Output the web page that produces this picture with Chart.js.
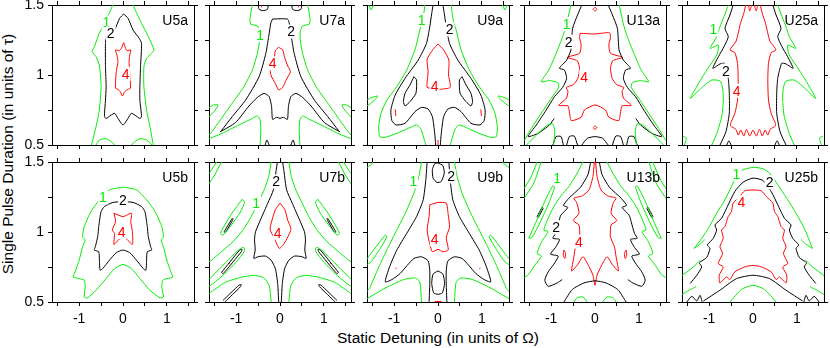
<!DOCTYPE html>
<html><head><meta charset="utf-8">
<script src="https://cdn.jsdelivr.net/npm/chart.js@4/dist/chart.umd.min.js"></script>
<style>
html,body{margin:0;padding:0;background:#fff;}
#wrap{position:relative;width:830px;height:348px;overflow:hidden;background:#fff;font-family:"Liberation Sans",Arial,sans-serif;}
.ttl{position:absolute;white-space:nowrap;color:#000;line-height:1;}
</style></head>
<body><div id="wrap">
<div class="ttl" id="xt" style="left:438px;top:330px;font-size:15.5px;transform:translateX(-50%);">Static Detuning (in units of Ω)</div>
<div class="ttl" id="yt" style="left:8px;top:154px;font-size:15.5px;transform:translate(-50%,-50%) rotate(-90deg);">Single Pulse Duration (in units of τ)</div>
</div>
<script>
// ---- axes ----
const xTicks = [-1.5, -1, -0.5, 0, 0.5, 1, 1.5];
const xTickLabels = [-1, 0, 1];
const yTicks = [0.5, 0.75, 1, 1.25, 1.5];
const yTickLabels = [0.5, 1, 1.5];
const panelNames = ['U5a','U7a','U9a','U13a','U25a','U5b','U7b','U9b','U13b','U25b'];
const levels = ['1','2','4'];

// ---- contour lines (detuning, duration) pairs ----
const U5a_1 = [
 [-0.23,1.5,-0.385,1.393,-0.54,1.298,-0.654,1.202,-0.708,1.167,-0.615,1.131,-0.54,1.071,-0.5,0.917,-0.54,0.75,-0.615,0.631,-0.69,0.536,-0.72,0.5],
 [0.23,1.5,0.385,1.393,0.577,1.274,0.708,1.179,0.654,1.155,0.538,1.119,0.477,1.06,0.477,0.917,0.538,0.75,0.615,0.631,0.692,0.5],
 [-0.615,0.5,-0.54,0.536,-0.385,0.545,-0.27,0.524,-0.19,0.5],
 [0.19,0.5,0.27,0.524,0.385,0.545,0.54,0.536,0.654,0.5]];
const U5a_2 = [
 [0.015,1.436,-0.077,1.405,-0.192,1.321,-0.308,1.274,-0.385,1.262,-0.4,1.226,-0.4,1.06,-0.385,0.917,-0.4,0.821,-0.423,0.702,-0.385,0.69,-0.27,0.714,-0.19,0.726,-0.115,0.69,0,0.643,0.115,0.69,0.19,0.726,0.27,0.714,0.385,0.69,0.423,0.702,0.385,0.821,0.385,0.917,0.4,1.06,0.423,1.226,0.37,1.262,0.23,1.321,0.115,1.405,0.015,1.436]];
const U5a_4 = [
 [0.015,1.231,-0.038,1.19,-0.077,1.174,-0.17,1.179,-0.138,1.143,-0.115,1.095,-0.154,1.024,-0.17,0.905,-0.115,0.898,-0.062,0.881,-0.015,0.85,0.038,0.881,0.115,0.898,0.17,0.905,0.154,1.024,0.138,1.095,0.154,1.143,0.177,1.179,0.092,1.174,0.062,1.19,0.015,1.231]];
const U5a_tags = [[-0.38,1.375,'1'],[-0.28,1.298,'2'],[0.06,1.007,'4']];

const U7a_1 = [
 [-0.631,1.5,-0.685,1.405,-0.669,1.364,-0.515,1.35,-0.462,1.31,-0.462,1.25,-0.515,1.155,-0.631,1.036,-0.823,0.917,-1.092,0.798,-1.362,0.679,-1.554,0.595,-1.654,0.56],
 [-1.654,0.54,-1.323,0.583,-0.938,0.643,-0.631,0.69,-0.515,0.707,-0.454,0.679,-0.438,0.607,-0.454,0.5],
 [-1.654,0.762,-1.515,0.786,-1.415,0.786,-1.477,0.75,-1.631,0.698,-1.654,0.69],
 [0.631,1.5,0.685,1.405,0.669,1.364,0.515,1.35,0.462,1.31,0.462,1.25,0.515,1.155,0.631,1.036,0.823,0.917,1.092,0.798,1.362,0.679,1.554,0.595,1.654,0.56],
 [1.654,0.54,1.323,0.583,0.938,0.643,0.631,0.69,0.515,0.707,0.454,0.679,0.438,0.607,0.454,0.5],
 [1.654,0.762,1.515,0.786,1.415,0.786,1.477,0.75,1.631,0.698,1.654,0.69]];
const U7a_2 = [
 [-0.169,1.4,-0.208,1.374,-0.246,1.298,-0.323,1.155,-0.477,0.988,-0.785,0.821,-1.092,0.702,-1.338,0.602,-1.362,0.595,-1.015,0.66,-0.708,0.779,-0.515,0.84,-0.362,0.869,-0.246,0.845,-0.192,0.774,-0.169,0.683,-0.077,0.698,0,0.69,0.077,0.698,0.169,0.683,0.192,0.774,0.246,0.845,0.362,0.869,0.515,0.84,0.708,0.779,1.015,0.66,1.362,0.595,1.338,0.602,1.092,0.702,0.785,0.821,0.477,0.988,0.323,1.155,0.246,1.298,0.208,1.374,0.169,1.4,-0.169,1.4],
 [-0.5,1.5,-0.477,1.469,-0.385,1.46,-0.285,1.469,-0.269,1.5],
 [0.269,1.5,0.285,1.469,0.385,1.46,0.477,1.469,0.5,1.5],
 [-0.338,0.5,-0.3,0.536,-0.246,0.5],
 [0.246,0.5,0.3,0.536,0.338,0.5]];
const U7a_4 = [
 [-0.031,1.198,-0.108,1.174,-0.131,1.112,-0.223,1.036,-0.2,0.993,-0.108,0.94,-0.031,0.893,0.062,0.912,0.138,0.964,0.238,1.024,0.177,1.064,0.1,1.131,0.062,1.179,-0.031,1.198],
 [-0.438,1.5,-0.415,1.483],[0.415,1.483,0.438,1.5]];
const U7a_tags = [[-0.454,1.286,'1'],[0.254,1.31,'2'],[-0.17,1.083,'4']];

const U9a_1 = [
 [-0.301,1.5,-0.323,1.44,-0.353,1.381,-0.414,1.321,-0.526,1.179,-0.714,1.036,-0.94,0.917,-1.165,0.821,-1.301,0.726,-1.353,0.631,-1.331,0.56,-1.203,0.555,-0.94,0.583,-0.677,0.619,-0.489,0.643,-0.398,0.619,-0.323,0.548,-0.278,0.5],
 [0.301,1.5,0.323,1.44,0.353,1.381,0.414,1.321,0.526,1.179,0.714,1.036,0.94,0.917,1.165,0.821,1.301,0.726,1.353,0.631,1.331,0.56,1.203,0.555,0.94,0.583,0.677,0.619,0.489,0.643,0.398,0.619,0.323,0.548,0.278,0.5],
 [-1.632,0.821,-1.504,0.84,-1.376,0.85,-1.429,0.826,-1.579,0.786,-1.632,0.779],
 [1.632,0.821,1.504,0.84,1.376,0.85,1.429,0.826,1.579,0.786,1.632,0.779],
 [-1.579,1.5,-1.526,1.464,-1.474,1.5],
 [1.474,1.5,1.526,1.464,1.579,1.5]];
const U9a_2 = [
 [-0.113,1.5,-0.143,1.44,-0.188,1.345,-0.263,1.226,-0.451,1.107,-0.752,0.976,-0.977,0.857,-1.075,0.75,-1.053,0.674,-0.955,0.643,-0.752,0.655,-0.526,0.738,-0.376,0.769,-0.226,0.757,-0.128,0.702,-0.075,0.583,-0.053,0.5],
 [0.113,1.5,0.143,1.44,0.188,1.345,0.263,1.226,0.451,1.107,0.752,0.976,0.977,0.857,1.075,0.75,1.053,0.674,0.955,0.643,0.752,0.655,0.526,0.738,0.376,0.769,0.226,0.757,0.128,0.702,0.075,0.583,0.053,0.5],
 [-0.549,0.988,-0.489,0.964,-0.504,0.869,-0.639,0.81,-0.752,0.779,-0.789,0.81,-0.752,0.869,-0.639,0.929,-0.549,0.988],
 [0.549,0.988,0.489,0.964,0.504,0.869,0.639,0.81,0.752,0.779,0.789,0.81,0.752,0.869,0.639,0.929,0.549,0.988]];
const U9a_4 = [
 [0,1.221,-0.113,1.183,-0.248,1.112,-0.226,1.024,-0.248,0.912,-0.113,0.905,0.038,0.898,0.278,0.912,0.241,1.0,0.248,1.107,0.128,1.179,0,1.221],
 [-0.977,0.755,-0.962,0.707],[0.977,0.755,0.992,0.707],[0,0.536,0,0.5]];
const U9a_tags = [[-0.376,1.393,'1'],[0.263,1.326,'2'],[-0.075,0.921,'4']];

const U13a_1 = [
 [-0.549,1.5,-0.602,1.429,-0.647,1.364,-0.737,1.274,-0.887,1.155,-1.053,1.036,-1.226,0.952,-1.038,0.96,-0.85,0.945,-0.827,0.912,-1.0,0.833,-1.226,0.726,-1.451,0.619,-1.602,0.54,-1.65,0.52],
 [-1.564,0.5,-1.301,0.583,-1.075,0.645,-0.962,0.65,-0.917,0.595,-0.947,0.5],
 [0.549,1.5,0.602,1.429,0.647,1.364,0.737,1.274,0.887,1.155,1.053,1.036,1.226,0.952,1.038,0.96,0.85,0.945,0.827,0.912,1.0,0.833,1.226,0.726,1.451,0.619,1.602,0.54,1.65,0.52],
 [1.564,0.5,1.301,0.583,1.075,0.645,0.962,0.65,0.917,0.595,0.947,0.5]];
const U13a_2 = [
 [-0.301,1.5,-0.398,1.429,-0.511,1.333,-0.549,1.179,-0.647,1.107,-0.812,1.048,-0.699,1.036,-0.647,0.976,-0.737,0.912,-0.925,0.845,-1.113,0.75,-1.338,0.643,-1.526,0.56,-1.301,0.583,-1.038,0.643,-0.93,0.69],
 [0.301,1.5,0.398,1.429,0.511,1.333,0.549,1.179,0.647,1.107,0.812,1.048,0.699,1.036,0.647,0.976,0.737,0.912,0.925,0.845,1.113,0.75,1.338,0.643,1.526,0.56,1.301,0.583,1.038,0.643,0.93,0.69],
 [-0.962,0.5,-0.887,0.56,-0.774,0.56,-0.722,0.5],
 [-0.647,0.5,-0.586,0.56,-0.474,0.564,-0.398,0.5],
 [-0.301,0.5,-0.173,0.548,0,0.56,0.173,0.548,0.301,0.5],
 [0.398,0.5,0.474,0.564,0.586,0.56,0.647,0.5],
 [0.722,0.5,0.774,0.56,0.887,0.56,0.962,0.5]];
const U13a_4 = [
 [-0.338,1.298,0,1.293,0.331,1.302,0.353,1.269,0.316,1.214,0.353,1.155,0.632,1.126,0.406,1.102,0.353,1.048,0.391,0.976,0.504,0.929,0.654,0.912,0.617,0.881,0.654,0.833,0.827,0.783,0.617,0.779,0.579,0.726,0.541,0.674,0.316,0.698,0.241,0.75,0,0.786,-0.241,0.75,-0.316,0.698,-0.541,0.674,-0.579,0.726,-0.617,0.779,-0.827,0.783,-0.654,0.833,-0.617,0.881,-0.654,0.912,-0.504,0.929,-0.391,0.976,-0.353,1.048,-0.406,1.102,-0.632,1.126,-0.353,1.155,-0.316,1.214,-0.353,1.269,-0.338,1.298],
 [-0.045,1.469,0,1.483,0.045,1.469,0,1.457,-0.045,1.469],
 [-0.045,0.624,0,0.636,0.045,0.624,0,0.612,-0.045,0.624]];
const U13a_tags = [[-0.647,1.364,'1'],[-0.602,1.238,'2'],[-0.248,0.988,'4']];

const U25a_1 = [
 [-0.564,1.5,-0.662,1.417,-0.767,1.333,-0.827,1.274,-0.977,1.19,-0.789,1.214,-0.827,1.143,-1.053,1.036,-1.278,0.921,-1.429,0.833,-1.128,0.921,-0.94,0.964,-0.752,0.957,-0.692,0.905,-0.677,0.821,-0.714,0.702,-0.827,0.583,-0.94,0.5],
 [0.564,1.5,0.662,1.417,0.767,1.333,0.827,1.274,0.977,1.19,0.789,1.214,0.827,1.143,1.053,1.036,1.278,0.921,1.429,0.833,1.128,0.921,0.94,0.964,0.752,0.957,0.692,0.905,0.677,0.821,0.714,0.702,0.827,0.583,0.94,0.5],
 [-1.602,0.564,-1.519,0.548,-1.564,0.5],
 [1.602,0.564,1.519,0.548,1.564,0.5]];
const U25a_2 = [
 [-0.451,1.5,-0.526,1.429,-0.639,1.333,-0.564,1.274,-0.662,1.202,-0.789,1.131,-0.917,1.048,-0.752,1.079,-0.654,1.083,-0.564,0.976,-0.541,0.869,-0.541,0.726,-0.617,0.595,-0.752,0.5],
 [0.451,1.5,0.526,1.429,0.639,1.333,0.564,1.274,0.662,1.202,0.789,1.131,0.917,1.048,0.752,1.079,0.654,1.083,0.564,0.976,0.541,0.869,0.541,0.726,0.617,0.595,0.752,0.5],
 [-0.6,0.5,-0.55,0.53,-0.5,0.5],
 [0.5,0.5,0.55,0.53,0.6,0.5]];
const U25a_4 = [
 [-0.165,1.5,-0.211,1.44,-0.286,1.369,-0.338,1.298,-0.391,1.238,-0.526,1.179,-0.414,1.16,-0.353,1.083,-0.338,0.964,-0.353,0.821,-0.414,0.726,-0.511,0.655,-0.511,0.636,-0.391,0.612,-0.338,0.571,-0.278,0.607,-0.211,0.564,-0.15,0.612,-0.075,0.564,0,0.607,0.075,0.564,0.15,0.612,0.211,0.564,0.278,0.607,0.338,0.571,0.391,0.612,0.511,0.636,0.511,0.655,0.414,0.726,0.353,0.821,0.338,0.964,0.353,1.083,0.414,1.16,0.526,1.179,0.391,1.238,0.338,1.298,0.286,1.369,0.211,1.44,0.165,1.5],
 [-0.105,1.5,-0.075,1.457,-0.03,1.5],
 [0.03,1.5,0.075,1.457,0.105,1.5]];
const U25a_tags = [[-0.902,1.326,'1'],[-0.617,1.031,'2'],[-0.376,0.888,'4']];

const U5b_1 = [
 [0,1.321,-0.308,1.301,-0.538,1.23,-0.731,1.146,-0.885,1.038,-0.923,0.967,-0.862,0.943,-0.923,0.895,-1.0,0.799,-1.092,0.715,-1.138,0.679,-1.0,0.667,-0.885,0.656,-0.862,0.608,-0.885,0.536,-0.808,0.529,-0.615,0.584,-0.385,0.667,-0.192,0.739,0,0.768,0.192,0.739,0.385,0.667,0.615,0.584,0.846,0.529,0.923,0.536,0.885,0.608,0.908,0.656,1.0,0.667,1.138,0.679,1.092,0.715,1.0,0.799,0.923,0.895,0.869,0.943,0.923,0.967,0.885,1.038,0.731,1.146,0.538,1.23,0.308,1.301,0,1.321]];
const U5b_2 = [
 [0,1.218,-0.231,1.211,-0.423,1.182,-0.5,1.146,-0.554,1.038,-0.577,0.967,-0.631,0.895,-0.654,0.871,-0.554,0.859,-0.538,0.799,-0.523,0.727,-0.462,0.739,-0.308,0.799,-0.154,0.852,0,0.871,0.154,0.852,0.308,0.799,0.462,0.739,0.523,0.727,0.538,0.799,0.554,0.859,0.654,0.871,0.631,0.895,0.577,0.967,0.554,1.038,0.5,1.146,0.423,1.182,0.231,1.211,0,1.218]];
const U5b_4 = [
 [-0.208,1.134,0,1.11,0.192,1.134,0.177,1.074,0.215,1.002,0.215,0.911,0.092,0.947,0,0.967,-0.092,0.947,-0.208,0.911,-0.192,0.99,-0.246,1.014,-0.169,1.074,-0.208,1.134]];
const U5b_tags = [[-0.46,1.246,'1'],[0,1.225,'2'],[-0.03,1.0,'4']];

const U7b_1 = [
 [-1.623,1.344,-1.487,1.409,-1.336,1.5],
 [-1.449,1.5,-1.585,1.433,-1.623,1.416],
 [-0.86,1.234,-0.808,1.211,-0.921,1.134,-1.109,1.05,-1.298,0.978,-1.358,0.99,-1.26,1.05,-1.072,1.146,-0.86,1.234],
 [-0.204,1.5,-0.257,1.397,-0.377,1.289,-0.506,1.206,-0.657,1.11,-0.845,1.014,-1.072,0.931,-1.336,0.859,-1.562,0.799,-1.623,0.787],
 [-1.623,0.66,-1.374,0.739,-1.109,0.823,-0.921,0.878,-0.83,0.89,-0.808,0.866,-0.996,0.787,-1.26,0.703,-1.525,0.632,-1.623,0.612],
 [-1.623,0.56,-1.25,0.64,-0.9,0.675,-0.6,0.69,-0.38,0.675,-0.25,0.62,-0.2,0.5],
 [1.623,1.344,1.487,1.409,1.336,1.5],
 [1.449,1.5,1.585,1.433,1.623,1.416],
 [0.86,1.234,0.808,1.211,0.921,1.134,1.109,1.05,1.298,0.978,1.358,0.99,1.26,1.05,1.072,1.146,0.86,1.234],
 [0.204,1.5,0.257,1.397,0.377,1.289,0.506,1.206,0.657,1.11,0.845,1.014,1.072,0.931,1.336,0.859,1.562,0.799,1.623,0.787],
 [1.623,0.66,1.374,0.739,1.109,0.823,0.921,0.878,0.83,0.89,0.808,0.866,0.996,0.787,1.26,0.703,1.525,0.632,1.623,0.612],
 [1.623,0.56,1.25,0.64,0.9,0.675,0.6,0.69,0.38,0.675,0.25,0.62,0.2,0.5]];
const U7b_2 = [
 [-0.06,1.5,-0.091,1.433,-0.151,1.301,-0.279,1.206,-0.43,1.098,-0.558,1.002,-0.581,0.943,-0.566,0.871,-0.596,0.811,-0.506,0.823,-0.332,0.828,-0.204,0.799,-0.106,0.739,-0.053,0.632,-0.03,0.5],
 [0.06,1.5,0.091,1.433,0.151,1.301,0.279,1.206,0.43,1.098,0.558,1.002,0.581,0.943,0.566,0.871,0.596,0.811,0.506,0.823,0.332,0.828,0.204,0.799,0.106,0.739,0.053,0.632,0.03,0.5],
 [-1.275,1.002,-1.087,1.098,-1.072,1.091,-1.245,0.997,-1.275,1.002],
 [-1.336,0.711,-0.921,0.871,-0.868,0.876,-0.883,0.859,-1.298,0.703,-1.336,0.711],
 [-1.298,0.512,-0.936,0.62,-0.883,0.624,-0.906,0.608,-1.26,0.5],
 [1.275,1.002,1.087,1.098,1.072,1.091,1.245,0.997,1.275,1.002],
 [1.336,0.711,0.921,0.871,0.868,0.876,0.883,0.859,1.298,0.703,1.336,0.711],
 [1.298,0.512,0.936,0.62,0.883,0.624,0.906,0.608,1.26,0.5]];
const U7b_4 = [
 [0,1.206,-0.106,1.158,-0.181,1.086,-0.226,1.019,-0.128,0.955,-0.015,0.883,0.098,0.919,0.249,1.019,0.174,1.086,0.113,1.158,0,1.206],
 [-1.155,0.78,-1.14,0.77],[1.14,0.77,1.155,0.78]];
const U7b_tags = [[-0.543,1.206,'1'],[-0.09,1.361,'2'],[-0.053,0.995,'4']];

const U9b_1 = [
 [-0.376,1.5,-0.436,1.397,-0.549,1.278,-0.729,1.146,-0.94,1.014,-1.15,0.883,-1.331,0.763,-1.481,0.656,-1.564,0.596,-1.64,0.57],
 [-1.64,0.52,-1.2,0.6,-0.789,0.66,-0.526,0.672,-0.414,0.644,-0.376,0.5],
 [-1.64,0.799,-1.353,0.919,-1.203,0.978,-1.165,0.967,-1.316,0.883,-1.526,0.787,-1.64,0.763],
 [-1.64,1.457,-1.526,1.481,-1.481,1.5],
 [0.376,1.5,0.436,1.397,0.549,1.278,0.729,1.146,0.94,1.014,1.15,0.883,1.331,0.763,1.481,0.656,1.564,0.596,1.64,0.57],
 [1.64,0.52,1.2,0.6,0.789,0.66,0.526,0.672,0.414,0.644,0.376,0.5],
 [1.64,0.799,1.353,0.919,1.203,0.978,1.165,0.967,1.316,0.883,1.526,0.787,1.64,0.763],
 [1.64,1.457,1.526,1.481,1.481,1.5]];
const U9b_2 = [
 [0,1.493,0.113,1.474,0.143,1.421,0.075,1.361,-0.023,1.354,-0.113,1.385,-0.128,1.445,-0.075,1.488,0,1.493],
 [0,0.722,0.113,0.699,0.15,0.632,0.098,0.565,0,0.555,-0.098,0.565,-0.143,0.632,-0.113,0.699,0,0.722],
 [-0.248,1.5,-0.278,1.373,-0.338,1.23,-0.489,1.11,-0.714,0.99,-0.94,0.871,-1.105,0.751,-1.203,0.644,-1.053,0.66,-0.865,0.703,-0.699,0.763,-0.549,0.811,-0.376,0.823,-0.226,0.794,-0.188,0.727,-0.188,0.632,-0.203,0.5],
 [0.248,1.5,0.278,1.373,0.338,1.23,0.489,1.11,0.714,0.99,0.94,0.871,1.105,0.751,1.203,0.644,1.053,0.66,0.865,0.703,0.699,0.763,0.549,0.811,0.376,0.823,0.226,0.794,0.188,0.727,0.188,0.632,0.203,0.5]];
const U9b_4 = [
 [-0.188,1.194,0,1.211,0.188,1.206,0.233,1.122,0.263,1.034,0.188,0.962,0.233,0.871,0.113,0.859,0,0.876,-0.128,0.859,-0.188,0.914,-0.248,1.014,-0.203,1.11,-0.188,1.194],
 [-0.075,0.504,0.075,0.504],[-0.96,0.745,-0.95,0.735],[0.95,0.735,0.96,0.745]];
const U9b_tags = [[-0.564,1.361,'1'],[0.301,1.397,'2'],[-0.075,0.947,'4']];

const U13b_1 = [
 [-0.275,1.5,-0.405,1.421,-0.595,1.325,-0.786,1.254,-0.939,1.182,-1.069,1.098,-1.168,1.014,-1.069,1.002,-1.206,0.938,-1.321,0.847,-1.221,0.828,-1.374,0.763,-1.511,0.699,-1.64,0.667],
 [-1.64,1.23,-1.397,1.349,-1.229,1.5],
 [-1.321,1.5,-1.473,1.385,-1.64,1.301],
 [-1.511,0.955,-1.359,1.062,-1.13,1.23,-0.962,1.33,-0.924,1.321,-1.053,1.206,-1.244,1.074,-1.435,0.962,-1.511,0.955],
 [-0.481,0.5,-0.405,0.531,-0.275,0.536,-0.176,0.5],
 [0.275,1.5,0.405,1.421,0.595,1.325,0.786,1.254,0.939,1.182,1.069,1.098,1.168,1.014,1.069,1.002,1.206,0.938,1.321,0.847,1.221,0.828,1.374,0.763,1.511,0.699,1.64,0.667],
 [1.64,1.23,1.397,1.349,1.229,1.5],
 [1.321,1.5,1.473,1.385,1.64,1.301],
 [1.511,0.955,1.359,1.062,1.13,1.23,0.962,1.33,0.924,1.321,1.053,1.206,1.244,1.074,1.435,0.962,1.511,0.955],
 [0.481,0.5,0.405,0.531,0.275,0.536,0.176,0.5]];
const U13b_2 = [
 [-0.099,1.5,-0.16,1.41,-0.33,1.32,-0.6,1.24,-0.72,1.19,-0.62,1.175,-0.78,1.12,-0.824,1.074,-0.901,0.99,-0.962,0.955,-0.809,0.947,-0.901,0.89,-1.015,0.842,-0.84,0.828,-0.939,0.77,-1.069,0.715,-1.145,0.656,-1.069,0.612,-0.863,0.636,-0.75,0.66],
 [0.099,1.5,0.16,1.41,0.33,1.32,0.6,1.24,0.72,1.19,0.62,1.175,0.78,1.12,0.824,1.074,0.901,0.99,0.962,0.955,0.809,0.947,0.901,0.89,1.015,0.842,0.84,0.828,0.939,0.77,1.069,0.715,1.145,0.656,1.069,0.612,0.863,0.636,0.75,0.66],
 [-0.71,0.5,-0.519,0.589,-0.252,0.636,0,0.651,0.252,0.636,0.519,0.589,0.71,0.5],
 [-1.321,1.11,-1.206,1.177,-1.183,1.17,-1.298,1.103,-1.321,1.11],
 [1.321,1.11,1.206,1.177,1.183,1.17,1.298,1.103,1.321,1.11]];
const U13b_4 = [
 [-0.015,1.5,-0.046,1.397,-0.137,1.301,-0.29,1.258,-0.481,1.242,-0.42,1.211,-0.366,1.134,-0.496,1.081,-0.366,1.05,-0.351,0.967,-0.443,0.895,-0.481,0.823,-0.534,0.722,-0.405,0.763,-0.275,0.823,-0.153,0.763,-0.046,0.691,0,0.62,0.046,0.691,0.153,0.763,0.275,0.823,0.405,0.763,0.534,0.722,0.481,0.823,0.443,0.895,0.351,0.967,0.366,1.05,0.496,1.081,0.366,1.134,0.42,1.211,0.481,1.242,0.29,1.258,0.137,1.301,0.046,1.397,0.015,1.5],
 [-0.71,0.871,-0.672,0.847,-0.687,0.811,-0.725,0.835,-0.71,0.871],
 [0.71,0.871,0.672,0.847,0.687,0.811,0.725,0.835,0.71,0.871]];
const U13b_tags = [[-0.863,1.385,'1'],[-0.885,1.034,'2'],[-0.366,0.931,'4']];

const U25b_1 = [
 [-1.343,0.883,-1.17,0.955,-0.996,1.038,-0.83,1.134,-0.642,1.23,-0.491,1.325,-0.377,1.4,-0.264,1.44,0,1.462,0.226,1.452,0.377,1.421,0.566,1.337,0.792,1.23,0.981,1.134,1.17,1.026,1.358,0.883],
 [-1.343,0.883,-1.2,0.915,-1.1,0.945],
 [1.358,0.883,1.2,0.915,1.1,0.945],
 [-1.64,0.684,-1.358,0.751,-1.2,0.8],
 [1.64,0.684,1.358,0.751,1.2,0.8],
 [-1.64,0.55,-1.45,0.585,-1.3,0.61],
 [1.64,0.55,1.45,0.585,1.3,0.61],
 [-0.528,0.5,-0.264,0.589,0,0.62,0.264,0.589,0.528,0.5]];
const U25b_2 = [
 [-1.434,0.632,-1.283,0.691,-1.17,0.751,-1.223,0.78,-1.057,0.818,-0.981,0.883,-1.042,0.907,-0.906,0.955,-0.83,1.014,-0.868,1.05,-0.717,1.098,-0.566,1.194,-0.415,1.289,-0.226,1.356,0,1.385,0.226,1.368,0.415,1.289,0.566,1.194,0.717,1.098,0.868,1.05,0.83,1.014,0.906,0.955,1.042,0.907,0.981,0.883,1.057,0.818,1.223,0.78,1.17,0.751,1.283,0.691,1.434,0.632],
 [-1.132,0.507,-0.755,0.584,-0.377,0.667,0,0.691,0.377,0.667,0.755,0.584,1.132,0.507],
 [-1.509,0.5,-1.396,0.541,-1.283,0.507,-1.208,0.548,-1.16,0.5],
 [1.509,0.5,1.396,0.541,1.283,0.507,1.208,0.548,1.16,0.5]];
const U25b_4 = [
 [0,1.301,-0.189,1.294,-0.302,1.254,-0.453,1.206,-0.491,1.146,-0.566,1.11,-0.642,1.038,-0.717,1.014,-0.679,0.955,-0.755,0.895,-0.694,0.847,-0.792,0.775,-0.679,0.751,-0.77,0.691,-0.755,0.636,-0.604,0.679,-0.528,0.66,-0.415,0.715,-0.189,0.751,0,0.761,0.189,0.751,0.415,0.715,0.528,0.66,0.604,0.679,0.755,0.636,0.77,0.691,0.679,0.751,0.792,0.775,0.694,0.847,0.755,0.895,0.679,0.955,0.717,1.014,0.642,1.038,0.566,1.11,0.491,1.146,0.453,1.206,0.302,1.254,0.189,1.294,0,1.301]];
const U25b_tags = [[-0.377,1.416,'1'],[0.377,1.356,'2'],[-0.264,1.213,'4']];

// ---- assembly ----
const panelLines = [
 [U5a_1,U5a_2,U5a_4],[U7a_1,U7a_2,U7a_4],[U9a_1,U9a_2,U9a_4],[U13a_1,U13a_2,U13a_4],[U25a_1,U25a_2,U25a_4],
 [U5b_1,U5b_2,U5b_4],[U7b_1,U7b_2,U7b_4],[U9b_1,U9b_2,U9b_4],[U13b_1,U13b_2,U13b_4],[U25b_1,U25b_2,U25b_4]];
const panelTags = [U5a_tags,U7a_tags,U9a_tags,U13a_tags,U25a_tags,U5b_tags,U7b_tags,U9b_tags,U13b_tags,U25b_tags];

// ---- layout & style ----
const FONT = '"Liberation Sans", Arial, sans-serif';
const COLORS = {'1':'#00ee00','2':'#000000','4':'#ff0000'};
const COL_LEFT = [52, 209, 367, 524, 682];
const ROW_TOP = [5, 162];
const PW = 142, PH = 140;
const XMIN = -1.62, XMAX = 1.62, YMIN = 0.5, YMAX = 1.5;
const NAME_INSET = [6, 20];

function toPts(flat){ const out=[]; for(let i=0;i<flat.length;i+=2) out.push({x:flat[i], y:flat[i+1]}); return out; }

const wrap = document.getElementById('wrap');
panelNames.forEach((name, idx) => {
  const col = idx % 5, row = Math.floor(idx / 5);
  const padL = 48, padR = 8, padT = 10, padB = row === 1 ? 30 : 12;
  const W = PW + padL + padR, H = PH + padT + padB;
  const cv = document.createElement('canvas');
  cv.width = W; cv.height = H;
  cv.style.cssText = `position:absolute;left:${COL_LEFT[col]-padL}px;top:${ROW_TOP[row]-padT}px;width:${W}px;height:${H}px;`;
  wrap.appendChild(cv);
  const datasets = [];
  levels.forEach((lev, li) => {
    panelLines[idx][li].forEach(line => datasets.push({
      data: toPts(line), borderColor: COLORS[lev], backgroundColor: COLORS[lev],
      borderWidth: 1, showLine: true, pointRadius: 0, tension: 0.2, fill: false
    }));
  });
  const gridOpt = {drawOnChartArea:false, drawTicks:true, tickLength:4, color:'#000', tickColor:'#000', lineWidth:1};
  const borderOpt = {display:true, color:'#000', width:1};
  const tickFont = {family: FONT, size: 14};
  const tags = panelTags[idx];
  new Chart(cv, {
    type: 'scatter',
    data: {datasets},
    options: {
      responsive: false, animation: false, events: [], devicePixelRatio: 1,
      layout: {padding: 0},
      plugins: {legend:{display:false}, tooltip:{enabled:false}},
      scales: {
        x: {type:'linear', position:'bottom', min:XMIN, max:XMAX, bounds:'data',
            afterBuildTicks: s => { s.ticks = xTicks.map(v => ({value:v})); },
            afterFit: s => { s.height = padB; s.paddingLeft = 0; s.paddingRight = 0; },
            ticks: {display: row === 1, autoSkip:false, maxRotation:0, padding:5, color:'#000', font:tickFont,
                    callback: v => xTickLabels.includes(v) ? String(v) : ''},
            grid: gridOpt, border: borderOpt},
        xTop: {type:'linear', position:'top', min:XMIN, max:XMAX, bounds:'data',
            afterBuildTicks: s => { s.ticks = xTicks.map(v => ({value:v})); },
            afterFit: s => { s.height = padT; s.paddingLeft = 0; s.paddingRight = 0; },
            ticks: {display:false}, grid: gridOpt, border: borderOpt},
        y: {type:'linear', position:'left', min:YMIN, max:YMAX, bounds:'data',
            afterBuildTicks: s => { s.ticks = yTicks.map(v => ({value:v})); },
            afterFit: s => { s.width = padL; s.paddingTop = 0; s.paddingBottom = 0; },
            ticks: {display: col === 0, autoSkip:false, padding:4, color:'#000', font:tickFont,
                    callback: v => yTickLabels.includes(v) ? String(v) : ''},
            grid: gridOpt, border: borderOpt},
        yRight: {type:'linear', position:'right', min:YMIN, max:YMAX, bounds:'data',
            afterBuildTicks: s => { s.ticks = yTicks.map(v => ({value:v})); },
            afterFit: s => { s.width = padR; s.paddingTop = 0; s.paddingBottom = 0; },
            ticks: {display:false}, grid: gridOpt, border: borderOpt}
      }
    },
    plugins: [{
      id: 'contourTags',
      afterDatasetsDraw(chart) {
        const {ctx, chartArea:a, scales} = chart;
        ctx.save();
        ctx.beginPath(); ctx.rect(a.left, a.top, a.right - a.left, a.bottom - a.top); ctx.clip();
        ctx.font = `14px ${FONT}`;
        ctx.textAlign = 'center'; ctx.textBaseline = 'middle';
        tags.forEach(([x, y, t]) => {
          const px = scales.x.getPixelForValue(x), py = scales.y.getPixelForValue(y);
          const w = ctx.measureText(t).width;
          ctx.fillStyle = '#fff';
          ctx.fillRect(px - w/2 - 1, py - 7, w + 2, 14);
          ctx.fillStyle = COLORS[t];
          ctx.fillText(t, px, py + 1);
        });
        ctx.textAlign = 'right'; ctx.textBaseline = 'alphabetic'; ctx.fillStyle = '#000';
        ctx.fillText(name, a.right - NAME_INSET[0], a.top + NAME_INSET[1]);
        ctx.restore();
      }
    }]
  });
});
</script>
</body></html>
